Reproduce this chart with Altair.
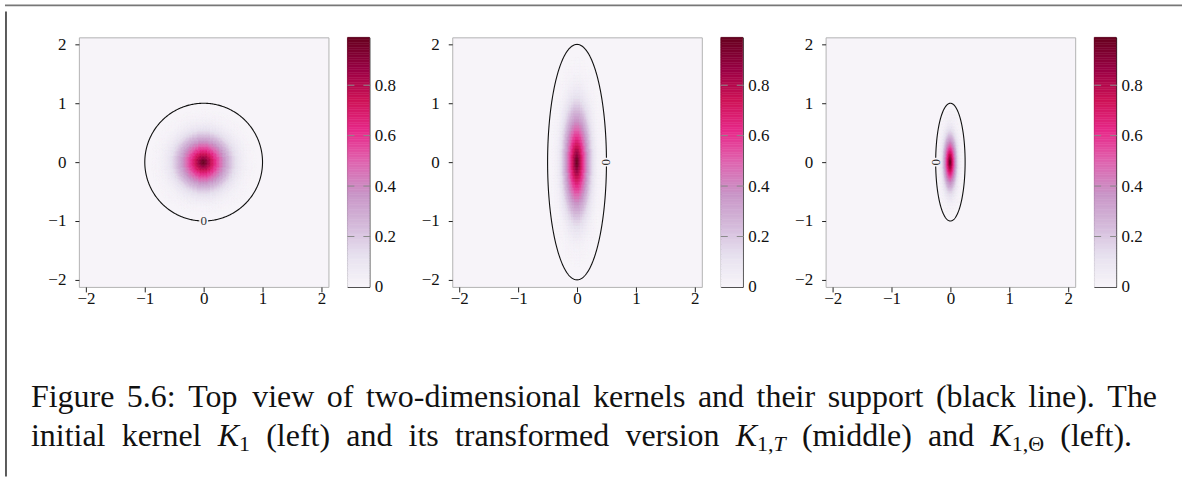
import altair as alt
import numpy as np
import pandas as pd

alt.data_transformers.disable_max_rows()

# ---------------------------------------------------------------- data
AXIS_TICKS = [-2, -1, 0, 1, 2]
CBAR_TICKS = [0, 0.2, 0.4, 0.6, 0.8]
CMAX = 0.99                      # top of the colour bar

# support ellipses (semi-axes) of K1, K1,T and K1,Theta
SEMI_X = [1.0, 0.5, 0.25]
SEMI_Y = [1.0, 2.0, 1.0]

# contour label "0": position on the support and rotation
LABEL_X = [0.0, 0.5, -0.25]
LABEL_Y = [-1.0, 0.0, 0.0]
LABEL_ANGLE = [0, 90, 90]

# radial profile of the initial kernel, sampled every 0.025 in normalised radius
PROFILE_STEP = 0.025
PROFILE = [0.990, 0.960, 0.910, 0.860, 0.810, 0.760, 0.715, 0.670, 0.625,
           0.580, 0.540, 0.495, 0.455, 0.415, 0.375, 0.335, 0.300, 0.265,
           0.230, 0.200, 0.170, 0.145, 0.120, 0.100, 0.080, 0.064, 0.050,
           0.038, 0.028, 0.020, 0.014, 0.009, 0.006, 0.0035, 0.002, 0.001]

# PuRd colour map, evenly spread over [0, CMAX]
PURD = ["#f7f4f9", "#e7e1ef", "#d4b9da", "#c994c7", "#df65b0", "#e7298a",
        "#ce1256", "#980043", "#67001f"]

# caption: words of the justified first line, tokens (runs) of the second
CAPTION_LINE1 = ["Figure", "5.6:", "Top", "view", "of", "two-dimensional",
                 "kernels", "and", "their", "support", "(black", "line).",
                 "The"]
CAPTION_LINE2 = [
    [("initial", "roman")], [("kernel", "roman")],
    [("K", "italic"), ("1", "sub")],
    [("(left)", "roman")], [("and", "roman")], [("its", "roman")],
    [("transformed", "roman")], [("version", "roman")],
    [("K", "italic"), ("1,", "sub"), ("T", "subitalic")],
    [("(middle)", "roman")], [("and", "roman")],
    [("K", "italic"), ("1,\u0398", "sub")],
    [("(left).", "roman")],
]

# ---------------------------------------------------------------- style
SERIF = "Liberation Serif"
TICK_FS = 17
DOMAIN = [-2.12, 2.12]
PANEL = 250
CBAR_W = 22
CAP_FS = 32
SUB_FS = 22
CONTENT_X = 13          # left edge of the caption view on the canvas
CAPTION_TOP = 308       # top of the caption view on the canvas

# advance widths (1/1000 em) of the Times-metric serif, for caption layout
ROMAN_W = {" ": 250, "(": 333, ")": 333, ",": 250, "-": 333, ".": 250,
           ":": 278, "F": 556, "T": 611, "K": 722, "\u0398": 722,
           "a": 444, "b": 500, "c": 444, "d": 500, "e": 444, "f": 333,
           "g": 500, "h": 500, "i": 278, "k": 500, "l": 278, "m": 778,
           "n": 500, "o": 500, "p": 500, "r": 333, "s": 389, "t": 278,
           "u": 500, "v": 500, "w": 722, "y": 500}
ITALIC_W = {"K": 667, "T": 556}

color_scale = alt.Scale(
    domain=[CMAX * k / (len(PURD) - 1) for k in range(len(PURD))],
    range=PURD, interpolate="rgb")


def run_width(text, kind):
    size = CAP_FS if kind in ("roman", "italic") else SUB_FS
    table = ITALIC_W if "italic" in kind else {}
    return sum(table.get(c, ROMAN_W.get(c, 500)) for c in text) * size / 1000


def justify(tokens, x0, x1, baseline):
    widths = [sum(run_width(t, k) for t, k in tok) for tok in tokens]
    gap = (x1 - x0 - sum(widths)) / (len(tokens) - 1)
    rows, x = [], x0
    for tok, w in zip(tokens, widths):
        rx = x
        for t, k in tok:
            dy = 5 if k.startswith("sub") else 0
            rows.append({"t": t, "kind": k, "px": rx - CONTENT_X,
                         "py": baseline + dy - CAPTION_TOP})
            rx += run_width(t, k)
        x += w + gap
    return rows


def kernel_cells(a, b):
    """Grid cells of the kernel stretched to semi-axes (a, b)."""
    h = PROFILE_STEP
    n = len(PROFILE)
    ticks = np.arange(-n, n + 1) * h
    rows = []
    for u in ticks:
        for v in ticks:
            k = int(round(np.hypot(u, v) / h))
            if k >= n:
                continue
            rows.append({
                "x0": a * (u - h / 2), "x1": a * (u + h / 2),
                "y0": b * (v - h / 2), "y1": b * (v + h / 2),
                "val": PROFILE[k],
            })
    return pd.DataFrame(rows)


def support_line(a, b, lx, ly, angle):
    """Ellipse of the support, opened where the contour label sits."""
    t0 = np.arctan2(ly / b, lx / a)
    half = 0.075 / (b if angle else a)
    t = np.linspace(t0 + half, t0 + 2 * np.pi - half, 400)
    return pd.DataFrame({"x": a * np.cos(t), "y": b * np.sin(t),
                         "i": np.arange(len(t))})


def axis(**kw):
    return alt.Axis(values=AXIS_TICKS, format="d", title=None, grid=False,
                    domain=False, tickColor="#222", tickWidth=1,
                    labelFont=SERIF, labelFontSize=TICK_FS,
                    labelColor="#111", **kw)


def panel(i):
    xs = alt.Scale(domain=DOMAIN, nice=False, zero=False)
    ys = alt.Scale(domain=DOMAIN, nice=False, zero=False)
    cells = alt.Chart(kernel_cells(SEMI_X[i], SEMI_Y[i])).mark_rect(
        strokeWidth=0.5, opacity=1).encode(
        x=alt.X("x0:Q", scale=xs, axis=axis(tickSize=5, labelPadding=-1)),
        x2="x1:Q",
        y=alt.Y("y0:Q", scale=ys, axis=axis(tickSize=4, labelPadding=9)),
        y2="y1:Q",
        color=alt.Color("val:Q", scale=color_scale, legend=None),
        stroke=alt.Stroke("val:Q", scale=color_scale, legend=None),
    )
    line = alt.Chart(support_line(SEMI_X[i], SEMI_Y[i], LABEL_X[i],
                                  LABEL_Y[i], LABEL_ANGLE[i])).mark_line(
        color="#111", strokeWidth=1.1).encode(
        x=alt.X("x:Q", scale=xs), y=alt.Y("y:Q", scale=ys), order="i:Q")
    label = alt.Chart(pd.DataFrame({"x": [LABEL_X[i]], "y": [LABEL_Y[i]],
                                    "t": ["0"]})).mark_text(
        font=SERIF, fontSize=13, color="#333", align="center",
        baseline="middle", angle=LABEL_ANGLE[i]).encode(
        x=alt.X("x:Q", scale=xs), y=alt.Y("y:Q", scale=ys), text="t:N")
    return alt.layer(cells, line, label).properties(
        width=PANEL, height=PANEL,
        view=alt.ViewConfig(fill=PURD[0], stroke="#b3b3b3", strokeWidth=1))


def colorbar():
    levels = np.linspace(0, CMAX, 101)
    bands = pd.DataFrame({"lo": levels[:-1], "hi": levels[1:],
                          "mid": (levels[:-1] + levels[1:]) / 2})
    ys = alt.Scale(domain=[0, CMAX], nice=False, zero=False)
    yax = alt.Axis(values=CBAR_TICKS, format=".1~f", orient="right",
                   title=None, grid=False, domain=False, ticks=False,
                   labelFont=SERIF, labelFontSize=TICK_FS,
                   labelColor="#111", labelPadding=5,
                   labelBaseline="middle")
    grad = alt.Chart(bands).mark_rect(strokeWidth=0.5, opacity=1).encode(
        x=alt.value(0), x2=alt.value(CBAR_W),
        y=alt.Y("lo:Q", scale=ys, axis=yax), y2="hi:Q",
        color=alt.Color("mid:Q", scale=color_scale, legend=None),
        stroke=alt.Stroke("mid:Q", scale=color_scale, legend=None),
    )
    dashes = alt.Chart(pd.DataFrame({"v": CBAR_TICKS[1:]})).mark_rule(
        color="#8a8a8a", strokeWidth=1, strokeDash=[7, 9]).encode(
        x=alt.value(0), x2=alt.value(CBAR_W + 1),
        y=alt.Y("v:Q", scale=ys))
    return alt.layer(grad, dashes).properties(
        width=CBAR_W, height=PANEL,
        view=alt.ViewConfig(stroke="#111", strokeWidth=1))


def caption():
    rows = justify([[(w, "roman")] for w in CAPTION_LINE1], 32, 1160, 406)
    rows += justify(CAPTION_LINE2, 32, 1135, 445)
    df = pd.DataFrame(rows)
    base = alt.Chart(df).encode(
        x=alt.X("px:Q", scale=None, axis=None),
        y=alt.Y("py:Q", scale=None, axis=None), text="t:N")
    styles = {"roman": ("normal", CAP_FS), "italic": ("italic", CAP_FS),
              "sub": ("normal", SUB_FS), "subitalic": ("italic", SUB_FS)}
    layers = [base.transform_filter(alt.datum.kind == k).mark_text(
        font=SERIF, fontSize=s, fontStyle=st, color="#111", align="left",
        baseline="alphabetic") for k, (st, s) in styles.items()]
    return alt.layer(*layers).properties(width=1160, height=150)


def spacer(w, h):
    return alt.Chart(pd.DataFrame({"a": [0]})).mark_point(opacity=0).encode(
        x=alt.value(0), y=alt.value(0)).properties(width=w, height=h)


top_rule = alt.Chart(pd.DataFrame({"a": [0]})).mark_rule(
    color="#777", strokeWidth=1.6).encode(
    x=alt.value(0), x2=alt.value(1179), y=alt.value(1)).properties(
    width=1179, height=2)
left_rule = alt.Chart(pd.DataFrame({"a": [0]})).mark_rule(
    color="#333", strokeWidth=1.6).encode(
    x=alt.value(1), y=alt.value(0), y2=alt.value(466)).properties(
    width=2, height=466)

groups = [alt.hconcat(panel(i), colorbar(), spacing=17) for i in range(3)]
row = alt.hconcat(*groups, spacing=24)
row = alt.hconcat(spacer(1, 1), row, spacing=31)
content = alt.vconcat(spacer(1, 21.5), row, caption(), spacing=0)
mid = alt.hconcat(left_rule, content, spacing=0)

chart = alt.vconcat(top_rule, mid, spacing=0).properties(
    padding={"left": 3, "top": 3, "right": 0, "bottom": 0},
    background="white",
).configure_view(stroke="transparent")

chart.save("out.html", embed_options={"renderer": "svg", "actions": False})
